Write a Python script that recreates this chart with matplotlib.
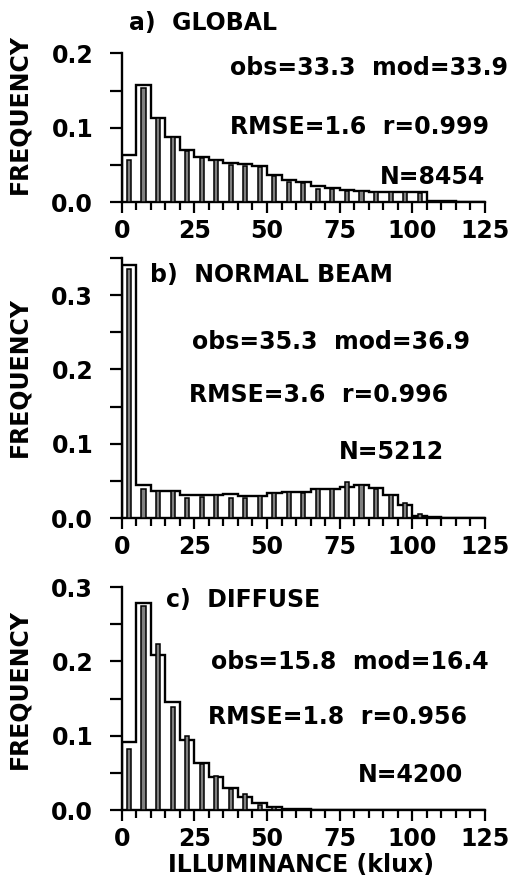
import numpy as np
import matplotlib
matplotlib.use("Agg")
import matplotlib.pyplot as plt
from matplotlib.ticker import MultipleLocator, FormatStrFormatter

# ------------------------------
# Data (frequency per 5 klux bin, 0-125)
# ------------------------------
bin_edges = np.arange(0, 130, 5)
bin_centers = bin_edges[:-1] + 2.5

# a) global
model_global = [0.063, 0.158, 0.113, 0.088, 0.070, 0.061, 0.056, 0.053, 0.051, 0.048,
                0.036, 0.030, 0.027, 0.021, 0.019, 0.016, 0.015, 0.014, 0.013, 0.013,
                0.013, 0.002, 0.001, 0.0005, 0.0]
obs_global = [0.057, 0.153, 0.113, 0.087, 0.069, 0.059, 0.056, 0.050, 0.049, 0.047,
              0.035, 0.027, 0.026, 0.018, 0.018, 0.015, 0.015, 0.014, 0.013, 0.013,
              0.012, 0.001, 0.0, 0.0, 0.0]

# b) normal beam
model_beam = [0.340, 0.045, 0.037, 0.037, 0.031, 0.031, 0.031, 0.032, 0.029, 0.030,
              0.033, 0.035, 0.035, 0.039, 0.039, 0.042, 0.045, 0.040, 0.031, 0.018,
              0.003, 0.001, 0.0, 0.0, 0.0]
obs_beam = [0.335, 0.039, 0.037, 0.037, 0.027, 0.028, 0.031, 0.027, 0.027, 0.029,
            0.033, 0.035, 0.034, 0.039, 0.039, 0.048, 0.045, 0.039, 0.031, 0.020,
            0.005, 0.001, 0.0, 0.0, 0.0]

# c) diffuse
model_diffuse = [0.092, 0.279, 0.209, 0.145, 0.094, 0.063, 0.045, 0.029, 0.018, 0.010,
                 0.0045, 0.002, 0.001, 0.0, 0.0, 0.0, 0.0, 0.0, 0.0, 0.0,
                 0.0, 0.0, 0.0, 0.0, 0.0]
obs_diffuse = [0.082, 0.275, 0.223, 0.138, 0.099, 0.062, 0.046, 0.028, 0.021, 0.007,
               0.0036, 0.002, 0.0, 0.0, 0.0, 0.0, 0.0, 0.0, 0.0, 0.0,
               0.0, 0.0, 0.0, 0.0, 0.0]

titles = ["a)  GLOBAL", "b)  NORMAL BEAM", "c)  DIFFUSE"]
stats_line1 = ["obs=33.3  mod=33.9", "obs=35.3  mod=36.9", "obs=15.8  mod=16.4"]
stats_line2 = ["RMSE=1.6  r=0.999", "RMSE=3.6  r=0.996", "RMSE=1.8  r=0.956"]
counts = ["N=8454", "N=5212", "N=4200"]

# ------------------------------
# Figure layout (pixel based)
# ------------------------------
W, H = 530, 889
plt.rcParams["font.family"] = ["DejaVu Sans"]
plt.rcParams["font.weight"] = "bold"
plt.rcParams["axes.labelweight"] = "bold"
fig = plt.figure(figsize=(W / 100, H / 100), dpi=100)

x0_px, x1_px = 121.7, 485.0
px_per_unit = 743.0  # pixels per 1.0 frequency
panels = [
    # bottom y pixel, y max
    (202, 0.2),
    (518, 0.35),
    (810, 0.3),
]
models = [model_global, model_beam, model_diffuse]
observed = [obs_global, obs_beam, obs_diffuse]

# text anchors (pixel centres) per panel: title, line1, line2, N
text_pos = [
    [(203, 23), (369, 68), (359, 127), (432, 177)],
    [(271, 275), (331, 342), (319, 395), (391, 452)],
    [(243, 600), (350, 662), (338, 717), (410, 775)],
]
ylabel_y = [114, 377, 689]

fs = 17
for i, (ybot, ymax) in enumerate(panels):
    height_px = ymax * px_per_unit
    ax = fig.add_axes([x0_px / W, 1 - ybot / H, (x1_px - x0_px) / W, height_px / H])

    ax.stairs(models[i], bin_edges, baseline=0, color="black", lw=1.7, zorder=2)
    ax.bar(bin_centers, observed[i], width=1.4, color="0.5", edgecolor="black",
           linewidth=1.1, zorder=3)

    ax.set_xlim(0, 125)
    ax.set_ylim(0, ymax)
    for side in ["top", "right"]:
        ax.spines[side].set_visible(False)
    for side in ["left", "bottom"]:
        ax.spines[side].set_linewidth(1.7)

    ax.xaxis.set_major_locator(MultipleLocator(25))
    ax.xaxis.set_minor_locator(MultipleLocator(5))
    ax.yaxis.set_major_locator(MultipleLocator(0.1))
    ax.yaxis.set_minor_locator(MultipleLocator(0.05))
    ax.yaxis.set_major_formatter(FormatStrFormatter("%.1f"))
    ax.tick_params(axis="x", which="major", length=8, width=1.6, pad=4, labelsize=fs)
    ax.tick_params(axis="x", which="minor", length=5.5, width=1.6)
    ax.tick_params(axis="y", which="both", length=8.5, width=1.6)
    ax.tick_params(axis="y", which="major", pad=12, labelsize=fs)

    ax.set_ylabel("FREQUENCY", fontsize=fs, fontweight="bold")
    ax.yaxis.set_label_coords(-0.25, (ybot - ylabel_y[i]) / height_px)

    labels = [titles[i], stats_line1[i], stats_line2[i], counts[i]]
    for (px, py), s in zip(text_pos[i], labels):
        fig.text(px / W, 1 - py / H, s, fontsize=fs, ha="center", va="center")

fig.text(301 / W, 1 - 865 / H, "ILLUMINANCE (klux)", fontsize=fs, ha="center", va="center")

plt.savefig("out.png", dpi=100)
